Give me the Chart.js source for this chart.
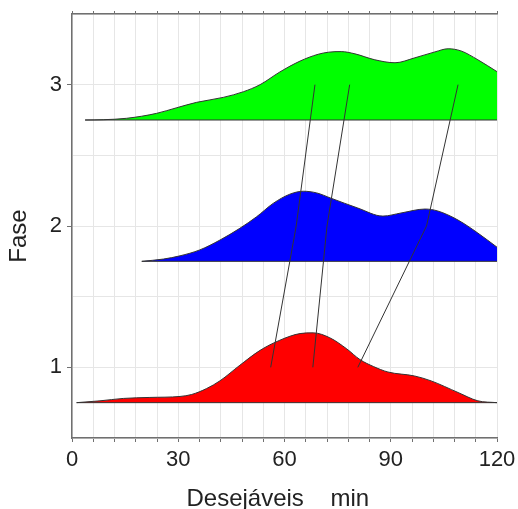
<!DOCTYPE html>
<html>
<head>
<meta charset="utf-8">
<script src="https://cdn.jsdelivr.net/npm/chart.js@4/dist/chart.umd.min.js"></script>
<style>
  body { margin: 0; background: #fff; }
  #wrap { width: 518px; height: 509px; }
</style>
</head>
<body>
<div id="wrap"><canvas id="ridges"></canvas></div>
<script>
// phases and their colours
const phases = [1, 2, 3];
const phaseColors = ['#ff0000', '#0000ff', '#00ff00'];

// density curves (height above each ridge baseline)
const x1 = [1.3, 7.9, 14.5, 22, 30.5, 33.8, 38, 41.8, 47.4, 53.1, 58.7, 64.4, 68.1, 72.8, 77.6, 81.3, 85.1, 89.2, 96.7, 101.4, 109, 114.6, 120];
const h1 = [0, 0.013, 0.03, 0.037, 0.044, 0.058, 0.1, 0.155, 0.265, 0.37, 0.442, 0.489, 0.494, 0.459, 0.38, 0.305, 0.256, 0.217, 0.189, 0.154, 0.072, 0.013, 0];

const x2 = [19.7, 25.8, 30.5, 36.1, 41.8, 47.4, 52.1, 56.8, 61.5, 65.3, 69.1, 73.1, 80.7, 87.8, 92.9, 99.7, 103.3, 109, 114.6, 120];
const h2 = [0, 0.016, 0.039, 0.081, 0.151, 0.234, 0.315, 0.41, 0.475, 0.496, 0.484, 0.447, 0.377, 0.32, 0.342, 0.37, 0.356, 0.292, 0.2, 0.1];

const x3 = [3.7, 8.8, 15.4, 23.9, 29.6, 35.2, 42.7, 48.4, 53.1, 58.7, 64.4, 69.5, 72.5, 76, 79.9, 85.5, 91.2, 96.8, 102.5, 106.2, 109.8, 114.6, 120];
const h3 = [0, 0.002, 0.012, 0.047, 0.087, 0.125, 0.16, 0.2, 0.25, 0.34, 0.417, 0.465, 0.48, 0.484, 0.468, 0.426, 0.405, 0.44, 0.482, 0.504, 0.489, 0.426, 0.342];

// lines joining the three quantiles of each phase
const qLow = [56.1, 63.3, 68.6];
const qMid = [68.0, 72.0, 78.4];
const qHigh = [80.7, 100.1, 109.0];

const xTicksShown = [0, 30, 60, 90, 120];
const yTicksShown = [1, 2, 3];

const ridgeX = [x1, x2, x3];
const ridgeH = [h1, h2, h3];
const baseOffset = 0.25;
const axisGray = '#707070';
const gridGray = '#e6e6e6';

const datasets = [];
phases.forEach((p, i) => {
  const base = p - baseOffset;
  datasets.push({
    data: ridgeX[i].map((x, j) => ({ x: x, y: base + ridgeH[i][j] })),
    borderColor: '#333',
    borderWidth: 1,
    backgroundColor: phaseColors[i],
    fill: { value: base },
    cubicInterpolationMode: 'monotone',
    pointRadius: 0,
    order: 3
  });
  // baseline under each ridge
  datasets.push({
    data: [{ x: ridgeX[i][0], y: base }, { x: 120, y: base }],
    borderColor: '#333',
    borderWidth: 1,
    pointRadius: 0,
    fill: false,
    order: 2
  });
});
[qLow, qMid, qHigh].forEach(q => {
  datasets.push({
    data: q.map((x, j) => ({ x: x, y: phases[j] })),
    borderColor: '#333',
    borderWidth: 1,
    pointRadius: 0,
    fill: false,
    tension: 0,
    order: 1
  });
});

Chart.defaults.font.family = '"Liberation Sans", Arial, sans-serif';
Chart.defaults.color = '#222';

new Chart(document.getElementById('ridges'), {
  type: 'line',
  data: { datasets: datasets },
  options: {
    responsive: true,
    maintainAspectRatio: false,
    animation: false,
    layout: { padding: { left: 0, right: 21, top: 0, bottom: 0 } },
    plugins: { legend: { display: false }, tooltip: { enabled: false } },
    scales: {
      x: {
        type: 'linear',
        position: 'bottom',
        min: 0, max: 120,
        afterFit: s => { s.height = 71; s.paddingLeft = 0; s.paddingRight = 0; },
        ticks: {
          stepSize: 6, autoSkip: false, maxRotation: 0, padding: 5,
          font: { size: 22 },
          callback: v => xTicksShown.includes(v) ? String(v) : ''
        },
        grid: { color: gridGray, tickColor: axisGray, tickLength: 4 },
        border: { color: axisGray, width: 1.5 },
        title: {
          display: true,
          text: 'Desejáveis    min  ',
          font: { size: 24, lineHeight: 1 },
          padding: { top: 0, bottom: -2 },
          color: '#222'
        }
      },
      xTop: {
        type: 'linear',
        position: 'top',
        min: 0, max: 120,
        afterFit: s => { s.height = 14; s.paddingLeft = 0; s.paddingRight = 0; },
        ticks: { stepSize: 6, autoSkip: false, display: false },
        grid: { drawOnChartArea: false, tickColor: axisGray, tickLength: 3 },
        border: { color: axisGray, width: 1.5 }
      },
      y: {
        type: 'linear',
        min: 0.5, max: 3.5,
        afterFit: s => { s.width = 72; s.paddingTop = 0; s.paddingBottom = 0; },
        ticks: {
          stepSize: 0.5, padding: 5,
          font: { size: 22 },
          callback: v => yTicksShown.includes(v) ? String(v) : ''
        },
        grid: {
          color: gridGray,
          tickLength: 5,
          tickColor: c => yTicksShown.includes(c.tick.value) ? axisGray : 'rgba(0,0,0,0)'
        },
        border: { color: axisGray, width: 1.5 },
        title: {
          display: true,
          text: 'Fase   ',
          font: { size: 24, lineHeight: 1 },
          padding: { top: 7, bottom: 0 },
          color: '#222'
        }
      }
    }
  }
});
</script>
</body>
</html>
